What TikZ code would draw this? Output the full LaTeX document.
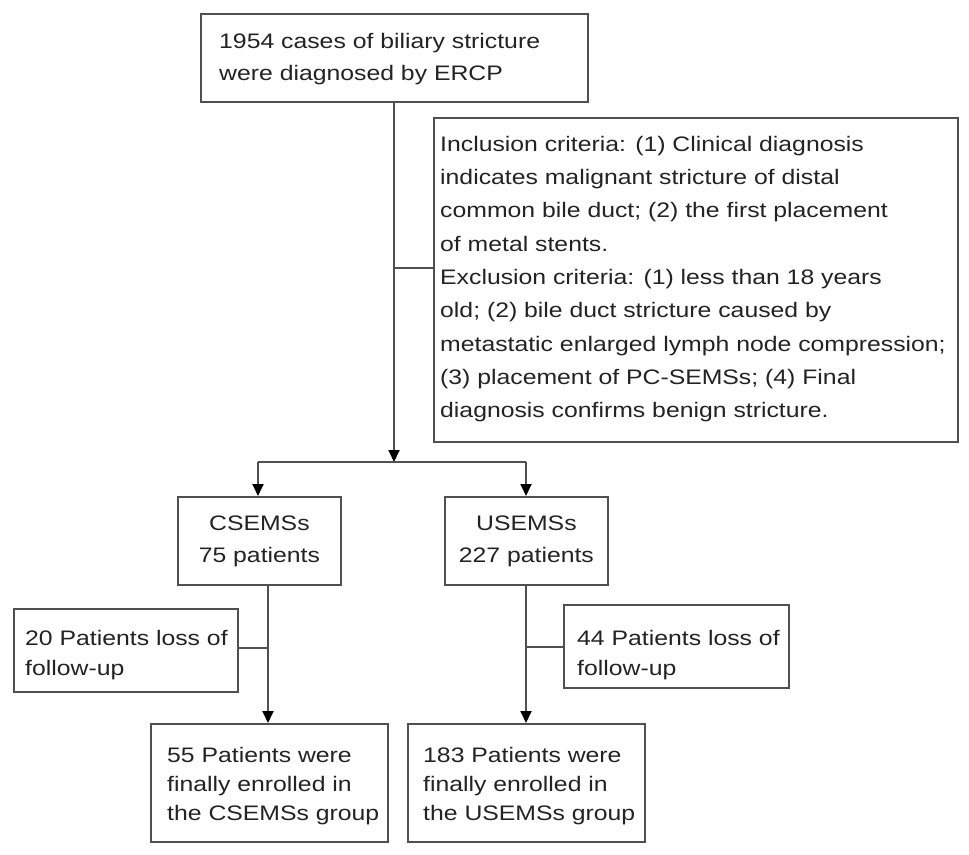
\documentclass[tikz,border=0pt]{standalone}
\usepackage{fontspec}
\setmainfont[FakeStretch=1.18]{Liberation Sans}
\usetikzlibrary{arrows.meta}
\definecolor{ln}{RGB}{80,80,80}
\definecolor{tx}{RGB}{35,35,35}
\tikzset{
  boxa/.style={draw=ln, line width=1.8pt, fill=white, rectangle, inner sep=0pt, anchor=north west},
  txt/.style={text=tx, inner sep=0pt, align=left, anchor=west},
  conn/.style={draw=ln, line width=1.8pt},
  arr/.style={conn, -{Triangle[width=11pt,length=12pt,color=black]}}
}
\begin{document}
\begin{tikzpicture}[x=1pt,y=-1pt]
\useasboundingbox[fill=white] (0,0) rectangle (969,854);
% boxes
\node[boxa, minimum width=387pt, minimum height=88pt] (top) at (200,13) {};
\node[boxa, minimum width=524pt, minimum height=324pt] (crit) at (433,117) {};
\node[boxa, minimum width=163pt, minimum height=88pt, align=center, text=tx,
      font=\fontsize{21}{32}\selectfont] (cs) at (177,496) {CSEMSs\\75 patients};
\node[boxa, minimum width=163pt, minimum height=88pt, align=center, text=tx,
      font=\fontsize{21}{32}\selectfont] (us) at (444,496) {USEMSs\\227 patients};
\node[boxa, minimum width=224pt, minimum height=83pt] (l20) at (13,608) {};
\node[boxa, minimum width=225pt, minimum height=83pt] (l44) at (563,604) {};
\node[boxa, minimum width=237pt, minimum height=118pt] (f1) at (150,723) {};
\node[boxa, minimum width=237pt, minimum height=118pt] (f2) at (407,723) {};
% texts
\node[txt, font=\fontsize{21}{32}\selectfont] (ttop) at (219,59)
  {1954 cases of biliary stricture\\were diagnosed by ERCP};
\node[txt, font=\fontsize{21}{33.3}\selectfont] (tcrit) at (440,279)
  {Inclusion criteria: (1) Clinical diagnosis\\
   indicates malignant stricture of distal\\
   common bile duct; (2) the first placement\\
   of metal stents.\\
   Exclusion criteria: (1) less than 18 years\\
   old; (2) bile duct stricture caused by\\
   metastatic enlarged lymph node compression;\\
   (3) placement of PC-SEMSs; (4) Final\\
   diagnosis confirms benign stricture.};
\node[txt, font=\fontsize{21}{30}\selectfont] (t20) at (25,655)
  {20 Patients loss of\\follow-up};
\node[txt, font=\fontsize{21}{30}\selectfont] (t44) at (577,655)
  {44 Patients loss of\\follow-up};
\node[txt, font=\fontsize{21}{29}\selectfont] (tf1) at (167,786)
  {55 Patients were\\finally enrolled in\\the CSEMSs group};
\node[txt, font=\fontsize{21}{29}\selectfont] (tf2) at (423,786)
  {183 Patients were\\finally enrolled in\\the USEMSs group};
% junction coordinates
\coordinate (split) at (394,462);
\coordinate (sl) at (258,462);
\coordinate (sr) at (526,462);
\coordinate (j1) at (394,268);
\coordinate (j2) at (268,648);
\coordinate (j3) at (526,647);
% connectors
\draw[arr] (top.south -| split) -- (split);
\draw[conn] (sl) -- (sr);
\draw[conn] (j1) -- (crit.west |- j1);
\draw[arr] (sl) -- (cs.north -| sl);
\draw[arr] (sr) -- (us.north -| sr);
\draw[arr] (cs.south -| j2) -- (f1.north -| j2);
\draw[conn] (l20.east |- j2) -- (j2);
\draw[arr] (us.south -| j3) -- (f2.north -| j3);
\draw[conn] (l44.west |- j3) -- (j3);
\end{tikzpicture}
\end{document}
